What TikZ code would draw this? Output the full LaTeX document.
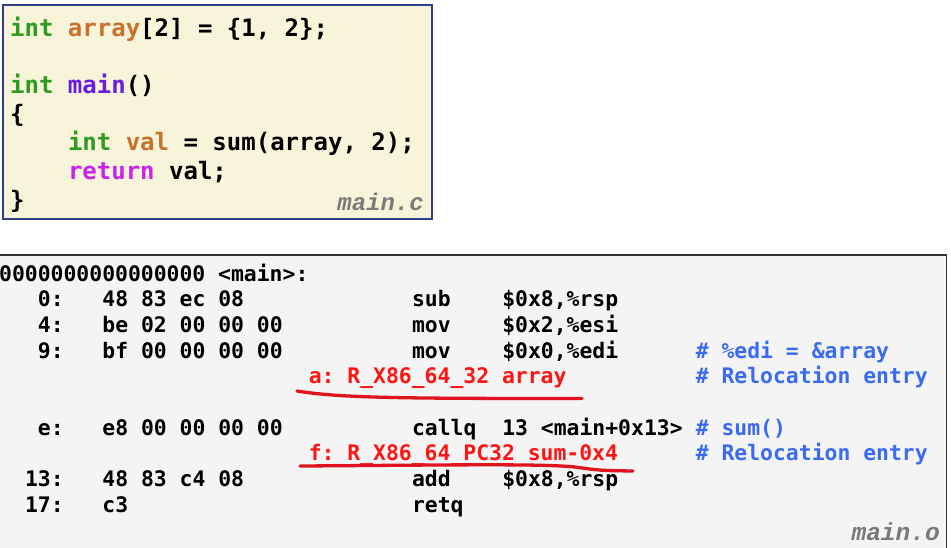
\documentclass[tikz,border=0pt]{standalone}
\usepackage{fontspec}
\usepackage{xcolor}
\usepackage{tikz}
\setmonofont{DejaVu Sans Mono}
\newfontfamily\filefont{Liberation Mono}
\usetikzlibrary{positioning}
\usetikzlibrary{calc}

\definecolor{srcbg}{HTML}{F8F4DA}
\definecolor{srcframe}{HTML}{2F3F86}
\definecolor{objbg}{HTML}{F4F4F4}
\definecolor{objframe}{HTML}{333333}
\definecolor{kwgreen}{HTML}{2E9A1E}
\definecolor{varorange}{HTML}{C8702C}
\definecolor{fnpurple}{HTML}{6A1BE0}
\definecolor{retmagenta}{HTML}{CC22EE}
\definecolor{cmtblue}{HTML}{3A6AF0}
\definecolor{relred}{HTML}{FF1414}
\definecolor{markred}{HTML}{E0141E}
\definecolor{filegray}{HTML}{7A7A7A}

\begin{document}
\begin{tikzpicture}[x=1pt,y=-1pt]
    \useasboundingbox (0,0) rectangle (951,547);
    \clip (0,0) rectangle (951,547);
    % the two boxes
    \draw[draw=srcframe,fill=srcbg,line width=1.2pt] (3,5) rectangle (432,219);
    \draw[draw=objframe,fill=objbg,line width=1.2pt] (-2,255) rectangle (946.5,560);
    % main.c
    \begin{scope}[every node/.style={anchor=base west,inner sep=0pt,font=\ttfamily\bfseries\fontsize{24}{28.7}\selectfont}]
    \node (s1) at (10,36) {\textcolor{kwgreen}{int} \textcolor{varorange}{array}[2] = \{1, 2\};};
    \node (s2) at (10,93.4) {\textcolor{kwgreen}{int} \textcolor{fnpurple}{main}()};
    \node (s3) at (10,122) {\{};
    \node (s4) at (67.8,150.8) {\textcolor{kwgreen}{int} \textcolor{varorange}{val} = sum(array, 2);};
    \node (s5) at (67.8,179.5) {\textcolor{retmagenta}{return} val;};
    \node (s6) at (10,208) {\}};
    \end{scope}
    \node[anchor=base east,inner sep=0pt,text=filegray,font=\filefont\bfseries\itshape\fontsize{24}{28}\selectfont] (cfile) at (424,210) {main.c};
    % main.o
    \begin{scope}[every node/.style={anchor=base west,inner sep=0pt,font=\ttfamily\bfseries\fontsize{21.4}{25.7}\selectfont}]
    \node (h) at (-1,281) {0000000000000000 <main>:};
    \node (a0) at (37.7,306.7) {0:};
    \node (a1) at (102.2,306.7) {48 83 ec 08};
    \node (a2) at (411.8,306.7) {sub};
    \node (a3) at (502.1,306.7) {\$0x8,\%rsp};
    \node (b0) at (37.7,332.4) {4:};
    \node (b1) at (102.2,332.4) {be 02 00 00 00};
    \node (b2) at (411.8,332.4) {mov};
    \node (b3) at (502.1,332.4) {\$0x2,\%esi};
    \node (c0) at (37.7,358.1) {9:};
    \node (c1) at (102.2,358.1) {bf 00 00 00 00};
    \node (c2) at (411.8,358.1) {mov};
    \node (c3) at (502.1,358.1) {\$0x0,\%edi};
    \node[text=cmtblue] (c4) at (695.6,358.1) {\# \%edi = \&array};
    \node[text=relred] (ra) at (308.6,383.8) {a: R\_X86\_64\_32 array};
    \node[text=cmtblue] (ra4) at (695.6,383.8) {\# Relocation entry};
    \node (e0) at (37.7,435.2) {e:};
    \node (e1) at (102.2,435.2) {e8 00 00 00 00};
    \node (e2) at (411.8,435.2) {callq};
    \node (e3) at (502.1,435.2) {13 <main+0x13>};
    \node[text=cmtblue] (e4) at (695.6,435.2) {\# sum()};
    \node[text=relred] (rf) at (308.6,460.9) {f: R\_X86\_64\_PC32 sum-0x4};
    \node[text=cmtblue] (rf4) at (695.6,460.9) {\# Relocation entry};
    \node (g0) at (24.8,486.6) {13:};
    \node (g1) at (102.2,486.6) {48 83 c4 08};
    \node (g2) at (411.8,486.6) {add};
    \node (g3) at (502.1,486.6) {\$0x8,\%rsp};
    \node (k0) at (24.8,512.3) {17:};
    \node (k1) at (102.2,512.3) {c3};
    \node (k2) at (411.8,512.3) {retq};
    \end{scope}
    \node[anchor=base east,inner sep=0pt,text=filegray,font=\filefont\bfseries\itshape\fontsize{24.5}{28}\selectfont] (ofile) at (940,540) {main.o};
    % hand-drawn underlines
    \coordinate (ua) at (297,391);
    \coordinate (ub) at (582,398.5);
    \coordinate (fa) at (300,466);
    \coordinate (fb) at (633,471);
    \begin{scope}[markred,line width=3.3pt,line cap=round]
    \draw (ua) .. controls (340,398) and (400,398.5) .. (ub);
    \draw (fa) .. controls (450,465) and (540,463.5) .. (575,467) .. controls (600,470.5) .. (fb);
    \end{scope}
\end{tikzpicture}
\end{document}
